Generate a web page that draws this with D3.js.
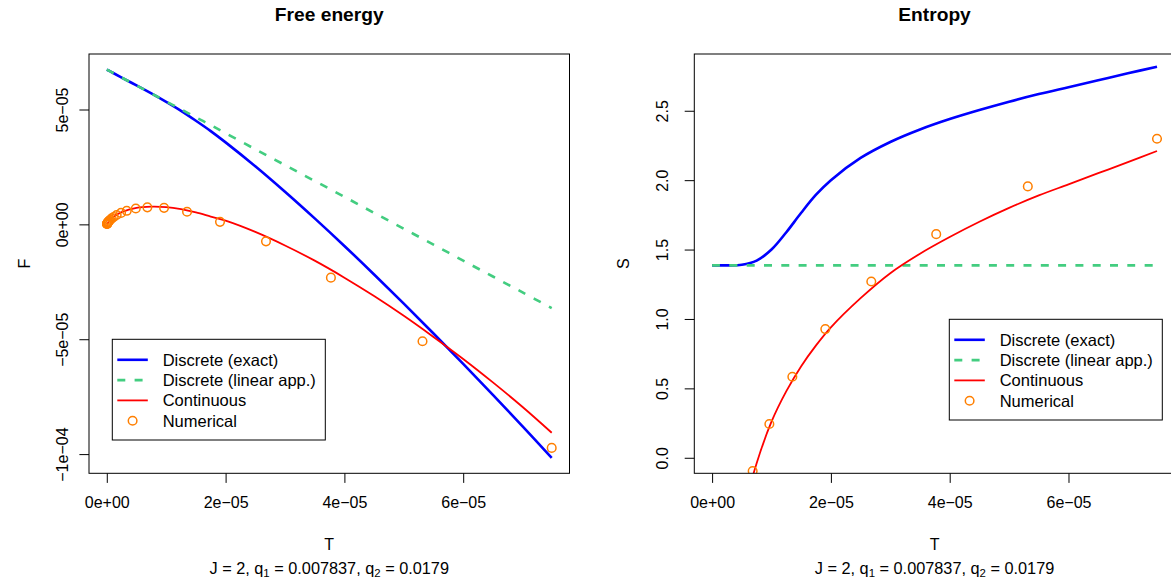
<!DOCTYPE html>
<html>
<head>
<meta charset="utf-8">
<script src="https://cdn.jsdelivr.net/npm/d3@7"></script>
<style>
  html, body { margin: 0; padding: 0; background: #fff; }
  svg { display: block; font-family: "Liberation Sans", Arial, Helvetica, sans-serif; }
</style>
</head>
<body>
<svg id="chart" width="1171" height="583"></svg>
<script>
// T and F are given in units of 1e-5
const T_UNIT = 1e-5;

// temperature grid used by the analytic curves
const lineT = [0, 0.05, 0.1, 0.25, 0.5, 0.75, 1, 1.25, 1.5, 1.75, 2, 2.5, 3, 3.5, 4, 4.5, 5, 5.5, 6, 6.5, 7, 7.49];

// Free energy
const F_exact  = [6.74, 6.67, 6.60, 6.39, 6.05, 5.70, 5.33, 4.94, 4.51, 4.06, 3.57, 2.53, 1.42, 0.26, -0.94, -2.18, -3.45, -4.75, -6.07, -7.42, -8.79, -10.16];
const F_linear = [6.74, 6.67, 6.60, 6.39, 6.05, 5.70, 5.35, 5.01, 4.66, 4.32, 3.97, 3.27, 2.58, 1.89, 1.20, 0.50, -0.19, -0.88, -1.58, -2.27, -2.96, -3.65];
const F_cont   = [0, 0.19, 0.31, 0.53, 0.72, 0.77, 0.75, 0.66, 0.52, 0.34, 0.16, -0.33, -0.92, -1.58, -2.32, -3.12, -3.98, -4.90, -5.86, -6.88, -7.95, -9.07];

// Entropy
const S_exact  = [1.386, 1.386, 1.386, 1.386, 1.39, 1.42, 1.50, 1.625, 1.765, 1.895, 2.00, 2.16, 2.275, 2.365, 2.44, 2.505, 2.565, 2.62, 2.67, 2.72, 2.77, 2.817];
const S_linear = [1.386, 1.386, 1.386, 1.386, 1.386, 1.386, 1.386, 1.386, 1.386, 1.386, 1.386, 1.386, 1.386, 1.386, 1.386, 1.386, 1.386, 1.386, 1.386, 1.386, 1.386, 1.386];
const S_cont   = [null, -2.74, -2.05, -1.13, -0.44, -0.04, 0.26, 0.48, 0.66, 0.81, 0.94, 1.15, 1.33, 1.47, 1.59, 1.70, 1.80, 1.89, 1.97, 2.05, 2.13, 2.21];

// numerical solution
const numT = [7.49, 5.315, 3.773, 2.68, 1.906, 1.351, 0.964, 0.683, 0.488, 0.336, 0.240, 0.166, 0.117, 0.083, 0.0586, 0.0414, 0.0293, 0.0207, 0.0146, 0.0104, 0.0073, 0.0052, 0.0037, 0.0026];
const numF = [-9.73, -5.09, -2.32, -0.74, 0.11, 0.55, 0.72, 0.74, 0.69, 0.59, 0.50, 0.41, 0.32, 0.26, 0.20, 0.16, 0.12, 0.095, 0.07, 0.055, 0.04, 0.03, 0.022, 0.016];
const numS = [2.298, 1.955, 1.611, 1.270, 0.927, 0.584, 0.243, -0.096, -0.44, -0.79];

const xTicks = [0, 2, 4, 6];
const fTicks = [-10, -5, 0, 5];
const sTicks = [0, 0.5, 1, 1.5, 2, 2.5];
const S_YLIM = [0, 2.797];

const legendLabels = ['Discrete (exact)', 'Discrete (linear app.)', 'Continuous', 'Numerical'];

const COL_EXACT = '#0000FF';
const COL_LINEAR = '#43CD80';
const COL_CONT = '#FF0000';
const COL_NUM = '#FF7F00';
const FONT = 16;

const svg = d3.select('#chart');

// R-style 4% range expansion
function pad(ext) {
  const r = ext[1] - ext[0];
  return [ext[0] - 0.04 * r, ext[1] + 0.04 * r];
}

// 5e-05 style labels with a real minus sign
function sciLabel(v) {
  if (v === 0) return '0e+00';
  let s = (v * T_UNIT).toExponential(0);
  s = s.replace(/e([+-])(\d)$/, 'e$10$2');
  return s.replace(/-/g, '\u2212');
}

function drawPanel(opt) {
  const { left, right, top, bottom } = opt.box;
  const x = d3.scaleLinear().domain(pad(d3.extent(lineT.concat(numT)))).range([left, right]);
  const y = d3.scaleLinear().domain(pad(opt.ylim)).range([bottom, top]);
  const g = svg.append('g');

  const clipId = 'clip-' + opt.id;
  svg.append('clipPath').attr('id', clipId)
    .append('rect')
    .attr('x', left).attr('y', top)
    .attr('width', right - left).attr('height', bottom - top);

  const plot = g.append('g').attr('clip-path', `url(#${clipId})`);

  const line = d3.line()
    .defined(d => d[1] != null)
    .x(d => x(d[0]))
    .y(d => y(d[1]))
    .curve(d3.curveCatmullRom.alpha(0.5));

  const series = [
    { vals: opt.exact, color: COL_EXACT, w: 2.6, dash: null },
    { vals: opt.linear, color: COL_LINEAR, w: 2.6, dash: '8,9.3' },
    { vals: opt.cont, color: COL_CONT, w: 1.8, dash: null }
  ];
  series.forEach(s => {
    plot.append('path')
      .datum(lineT.map((t, i) => [t, s.vals[i]]))
      .attr('d', line)
      .attr('fill', 'none')
      .attr('stroke', s.color)
      .attr('stroke-width', s.w)
      .attr('stroke-dasharray', s.dash);
  });

  plot.selectAll('circle.num')
    .data(opt.num.map((v, i) => [numT[i], v]))
    .enter()
    .append('circle')
    .attr('class', 'num')
    .attr('cx', d => x(d[0]))
    .attr('cy', d => y(d[1]))
    .attr('r', 4.3)
    .attr('fill', 'none')
    .attr('stroke', COL_NUM)
    .attr('stroke-width', 1.5);

  // axes
  const xAxis = g.append('g')
    .attr('transform', `translate(0,${bottom})`)
    .call(d3.axisBottom(x).tickValues(xTicks).tickFormat(sciLabel).tickSize(9.6).tickSizeOuter(0).tickPadding(13.5));
  const yAxis = g.append('g')
    .attr('transform', `translate(${left},0)`)
    .call(d3.axisLeft(y).tickValues(opt.yTicks).tickFormat(opt.yFormat).tickSize(9.6).tickSizeOuter(0));
  [xAxis, yAxis].forEach(a => {
    a.select('.domain').remove();
    a.selectAll('line').attr('stroke', '#000').attr('stroke-width', 1);
    a.selectAll('text').attr('font-size', FONT).attr('fill', '#000')
      .attr('font-family', '"Liberation Sans", Arial, sans-serif');
  });
  yAxis.selectAll('text')
    .attr('transform', 'rotate(-90)')
    .attr('x', 0).attr('y', -opt.yLabelOff).attr('dy', 0)
    .attr('text-anchor', 'middle');

  // box
  g.append('rect')
    .attr('x', left).attr('y', top)
    .attr('width', right - left).attr('height', bottom - top)
    .attr('fill', 'none').attr('stroke', '#000').attr('stroke-width', 1);

  const cx = (left + right) / 2;
  g.append('text')
    .attr('x', cx).attr('y', 21)
    .attr('text-anchor', 'middle')
    .attr('font-size', 19.2).attr('font-weight', 'bold')
    .text(opt.title);

  g.append('text')
    .attr('x', cx).attr('y', 549.5)
    .attr('text-anchor', 'middle')
    .attr('font-size', FONT)
    .text('T');

  g.append('text')
    .attr('transform', `translate(${opt.ylabX},${(top + bottom) / 2}) rotate(-90)`)
    .attr('text-anchor', 'middle')
    .attr('font-size', FONT)
    .text(opt.ylab);

  // subtitle with subscripts
  const sub = g.append('text')
    .attr('x', cx).attr('y', 573.5)
    .attr('text-anchor', 'middle')
    .attr('font-size', 16.3);
  sub.append('tspan').text('J = 2, q');
  sub.append('tspan').attr('font-size', 11.4).attr('dy', 3.5).text('1');
  sub.append('tspan').attr('dy', -3.5).text(' = 0.007837, q');
  sub.append('tspan').attr('font-size', 11.4).attr('dy', 3.5).text('2');
  sub.append('tspan').attr('dy', -3.5).text(' = 0.0179');

  drawLegend(g, opt.legend[0], opt.legend[1]);
}

function drawLegend(g, lx, ly) {
  const w = 213, h = 100.7, rowH = 20.3;
  const lg = g.append('g');
  lg.append('rect')
    .attr('x', lx).attr('y', ly).attr('width', w).attr('height', h)
    .attr('fill', '#fff').attr('stroke', '#000').attr('stroke-width', 1);
  const items = [
    { color: COL_EXACT, w: 2.6, dash: null },
    { color: COL_LINEAR, w: 2.6, dash: '8,9.3' },
    { color: COL_CONT, w: 1.8, dash: null },
    { color: COL_NUM, point: true }
  ];
  items.forEach((it, i) => {
    const cy = ly + 20.5 + i * rowH;
    if (it.point) {
      lg.append('circle')
        .attr('cx', lx + 20.3).attr('cy', cy).attr('r', 4.3)
        .attr('fill', 'none').attr('stroke', it.color).attr('stroke-width', 1.5);
    } else {
      lg.append('line')
        .attr('x1', lx + 5).attr('x2', lx + 35.5)
        .attr('y1', cy).attr('y2', cy)
        .attr('stroke', it.color).attr('stroke-width', it.w)
        .attr('stroke-dasharray', it.dash);
    }
    lg.append('text')
      .attr('x', lx + 50.4).attr('y', cy + 5.8)
      .attr('font-size', 16.5)
      .text(legendLabels[i]);
  });
}

drawPanel({
  id: 'F',
  box: { left: 89, right: 569.5, top: 54, bottom: 473.3 },
  ylim: d3.extent(F_exact.concat(F_linear, F_cont, numF)),
  exact: F_exact, linear: F_linear, cont: F_cont, num: numF,
  yTicks: fTicks, yFormat: sciLabel, yLabelOff: 21,
  title: 'Free energy', ylab: 'F', ylabX: 30,
  legend: [112.3, 339.3]
});

drawPanel({
  id: 'S',
  box: { left: 694.3, right: 1174.8, top: 54, bottom: 473.3 },
  ylim: S_YLIM,
  exact: S_exact, linear: S_linear, cont: S_cont, num: numS,
  yTicks: sTicks, yFormat: d3.format('.1f'), yLabelOff: 26,
  title: 'Entropy', ylab: 'S', ylabX: 629,
  legend: [949.3, 319.3]
});
</script>
</body>
</html>
